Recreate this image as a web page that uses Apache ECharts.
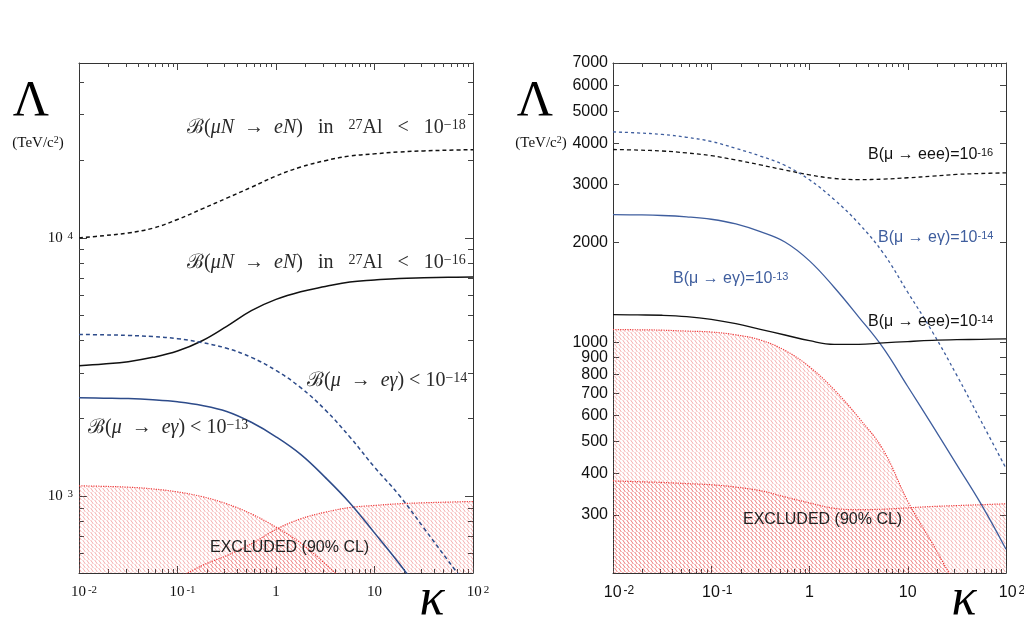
<!DOCTYPE html>
<html>
<head>
<meta charset="utf-8">
<script src="https://cdn.jsdelivr.net/npm/echarts@6/dist/echarts.min.js"></script>
<style>
html, body { margin: 0; padding: 0; background: #fff; }
#chart { width: 1024px; height: 628px; }
</style>
</head>
<body>
<div id="chart"></div>
<script>
// kappa sample points (quarter decades), shared by every curve
var kappa = [0.01, 0.0178, 0.0316, 0.0562, 0.1, 0.178, 0.316, 0.562, 1, 1.78, 3.16, 5.62, 10, 17.8, 31.6, 56.2, 100];

// left panel, Lambda in TeV/c^2
var convAl18   = [10000, 10200, 10450, 10900, 11780, 12950, 14250, 15700, 17350, 18800, 19900, 20750, 21150, 21500, 21700, 21850, 21950];
var convAl16   = [3200, 3250, 3320, 3450, 3650, 4000, 4550, 5230, 5780, 6190, 6480, 6750, 6870, 6970, 7010, 7040, 7060];
var megL14     = [4230, 4215, 4195, 4150, 4075, 3935, 3740, 3450, 3070, 2633, 2160, 1697, 1296, 1010, 755, 562, 420];
var megL13     = [2406, 2398, 2388, 2362, 2320, 2248, 2130, 1934, 1700, 1453, 1184, 943, 722, 550, 410, 310, 235];
var exclL_meg  = [1098, 1093, 1085, 1068, 1040, 997, 935, 855, 760, 660, 548, 448, 370, null, null, null, null];
var exclL_conv = [null, null, null, null, 480, 540, 590, 655, 745, 818, 868, 905, 922, 936, 944, 950, 955];

// right panel
var eee16      = [3830, 3815, 3790, 3740, 3670, 3560, 3440, 3320, 3210, 3130, 3105, 3115, 3145, 3180, 3220, 3240, 3255];
var megR14     = [4330, 4300, 4255, 4170, 4050, 3860, 3660, 3430, 3100, 2704, 2290, 1862, 1416, 1075, 793, 574, 415];
var megR13     = [2432, 2428, 2418, 2395, 2355, 2280, 2160, 2010, 1762, 1466, 1193, 961, 734, 560, 425, 322, 236];
var eee14      = [1211, 1209, 1206, 1195, 1172, 1137, 1093, 1051, 1010, 985, 985, 995, 1004, 1012, 1017, 1020, 1023];
var exclR_meg  = [1091, 1090, 1087, 1080, 1073, 1052, 1015, 944, 842, 718, 591, 472, 330, 246, 184, 150, null];
var exclR_eee  = [380, 378, 376, 373, 370, 364, 355, 340, 326, 314, 311, 312, 315, 318, 320, 322, 324];

// axes
var kappaRange  = [0.01, 100];
var leftYRange  = [505, 47500];
var rightYRange = [200, 7000];
var xMajor      = [0.01, 0.1, 1, 10, 100];
var leftYMajor  = [1000, 10000];
var leftYMinor  = [600, 700, 800, 900, 2000, 3000, 4000, 5000, 6000, 7000, 8000, 9000, 20000, 30000, 40000];
var rightYTicks = [300, 400, 500, 600, 700, 800, 900, 1000, 2000, 3000, 4000, 5000, 6000, 7000];

var BLUE_L = '#2d4b8a', BLUE_R = '#3f5e9e', BLACK = '#111', RED = '#ee3c3c';
var SERIF = '"Liberation Serif", "DejaVu Serif", serif';
var SANS = '"Liberation Sans", Arial, sans-serif';

function xMinor() {
    var out = [];
    for (var d = 0; d < 4; d++) {
        for (var j = 2; j < 10; j++) out.push(j * xMajor[d]);
    }
    return out;
}

// hatch fill, "\" lines; overlapping areas stack into darker lines
function hatch() {
    var c = document.createElement('canvas'), s = 4;
    c.width = s; c.height = s;
    var ctx = c.getContext('2d');
    ctx.strokeStyle = 'rgba(232,90,90,0.55)';
    ctx.lineWidth = 0.9;
    for (var k = -2; k <= 2; k++) {
        ctx.beginPath();
        ctx.moveTo(k * s - s, -s);
        ctx.lineTo(k * s + s, s + s);
        ctx.stroke();
    }
    return { image: c, repeat: 'repeat' };
}

function pairs(values) {
    var out = [];
    for (var i = 0; i < kappa.length; i++) {
        if (values[i] != null) out.push([kappa[i], values[i]]);
    }
    return out;
}

function tickAxis(grid, pos, range, values, len, label) {
    var lg = function (v) { return Math.log10(v); };
    return {
        type: 'value', gridIndex: grid, position: pos,
        min: lg(range[0]), max: lg(range[1]),
        axisLine: { show: len > 5, onZero: false, lineStyle: { color: '#333', width: 1 } },
        axisTick: { show: true, inside: true, length: len, customValues: values.map(lg),
                    lineStyle: { color: '#444', width: 1 } },
        axisLabel: label ? Object.assign({ customValues: values.map(lg) }, label) : { show: false },
        splitLine: { show: false }
    };
}

function dataAxis(grid, range) {
    return { type: 'log', gridIndex: grid, min: range[0], max: range[1], show: false,
             splitLine: { show: false } };
}

function line(xi, yi, values, color, dash, width) {
    return {
        type: 'line', xAxisIndex: xi, yAxisIndex: yi, data: pairs(values),
        smooth: 0.4, showSymbol: false, symbol: 'none', silent: true,
        lineStyle: { color: color, type: dash, width: width }, z: 3
    };
}

function area(xi, yi, values) {
    return {
        type: 'line', xAxisIndex: xi, yAxisIndex: yi, data: pairs(values),
        smooth: 0.4, showSymbol: false, symbol: 'none', silent: true,
        lineStyle: { color: RED, type: 'dotted', width: 1.2 },
        areaStyle: { color: hatch(), opacity: 1, origin: 'start' }, z: 2
    };
}

var supRich = function (font, size, sup) {
    return {
        n: { fontFamily: font, fontSize: size, color: '#111' },
        s: { fontFamily: font, fontSize: sup, color: '#111', verticalAlign: 'top', padding: [0, 0, 0, 2] }
    };
};

var leftXLabel = {
    margin: 12, fontFamily: SERIF, fontSize: 15, color: '#111',
    formatter: function (v) {
        v = Math.round(v);
        if (v === 0) return '{n|1}';
        if (v === 1) return '{n|10}';
        return '{p|}{n|10}{s|' + v + '}';
    },
    rich: Object.assign(supRich(SERIF, 15, 11), { p: { width: 10 } })
};
var rightXLabel = {
    margin: 12, fontFamily: SANS, fontSize: 16, color: '#111',
    formatter: leftXLabel.formatter,
    rich: Object.assign(supRich(SANS, 16, 12), { p: { width: 12 } })
};
var leftYLabel = {
    margin: 6, fontFamily: SERIF, fontSize: 15, color: '#111',
    formatter: function (v) { return '{n|10}{s| ' + Math.round(v) + '}'; },
    rich: supRich(SERIF, 15, 11)
};
var rightYLabel = {
    margin: 5, fontFamily: SANS, fontSize: 16, color: '#111',
    formatter: function (v) { return String(Math.round(Math.pow(10, v))); }
};

var grids = [
    { left: 79, top: 63, width: 394, height: 510, outerBoundsMode: 'none' },
    { left: 613, top: 63, width: 393, height: 510, outerBoundsMode: 'none' }
];

var xAxes = [
    dataAxis(0, kappaRange),
    tickAxis(0, 'bottom', kappaRange, xMajor, 7, leftXLabel),
    tickAxis(0, 'bottom', kappaRange, xMinor(), 4),
    tickAxis(0, 'top', kappaRange, xMajor, 7),
    tickAxis(0, 'top', kappaRange, xMinor(), 4),
    dataAxis(1, kappaRange),
    tickAxis(1, 'bottom', kappaRange, xMajor, 7, rightXLabel),
    tickAxis(1, 'bottom', kappaRange, xMinor(), 4),
    tickAxis(1, 'top', kappaRange, xMajor, 7),
    tickAxis(1, 'top', kappaRange, xMinor(), 4)
];
var yAxes = [
    dataAxis(0, leftYRange),
    tickAxis(0, 'left', leftYRange, leftYMajor, 8, leftYLabel),
    tickAxis(0, 'left', leftYRange, leftYMinor, 5),
    tickAxis(0, 'right', leftYRange, leftYMajor, 8),
    tickAxis(0, 'right', leftYRange, leftYMinor, 5),
    dataAxis(1, rightYRange),
    tickAxis(1, 'left', rightYRange, rightYTicks, 6, rightYLabel),
    tickAxis(1, 'right', rightYRange, rightYTicks, 6)
];

var series = [
    area(0, 0, exclL_meg),
    area(0, 0, exclL_conv),
    line(0, 0, convAl18, BLACK, [4, 3], 1.5),
    line(0, 0, convAl16, BLACK, 'solid', 1.5),
    line(0, 0, megL14, BLUE_L, [4, 3], 1.5),
    line(0, 0, megL13, BLUE_L, 'solid', 1.5),
    area(5, 5, exclR_meg),
    area(5, 5, exclR_eee),
    line(5, 5, eee16, BLACK, [4, 3], 1.3),
    line(5, 5, megR14, BLUE_R, [3, 3], 1.3),
    line(5, 5, megR13, BLUE_R, 'solid', 1.3),
    line(5, 5, eee14, BLACK, 'solid', 1.3)
];

function text(x, y, str, rich, extra) {
    return {
        type: 'text', x: x, y: y, z: 10, silent: true,
        style: Object.assign({ text: str, rich: rich, verticalAlign: 'middle', align: 'left' }, extra || {})
    };
}

var mathRich = {
    t: { fontFamily: SERIF, fontSize: 20, fill: '#2a2a2a' },
    i: { fontFamily: SERIF, fontSize: 20, fontStyle: 'italic', fill: '#2a2a2a' },
    u: { fontFamily: SERIF, fontSize: 14, fill: '#2a2a2a', verticalAlign: 'top' }
};
var sansRich = function (color) {
    return {
        t: { fontFamily: SANS, fontSize: 16, fill: color },
        u: { fontFamily: SANS, fontSize: 11, fill: color, verticalAlign: 'top' }
    };
};
var unitRich = {
    t: { fontFamily: SERIF, fontSize: 15, fill: '#111' },
    u: { fontFamily: SERIF, fontSize: 10, fill: '#111', verticalAlign: 'top' }
};
var bigRich = { t: { fontFamily: SERIF, fontSize: 50, fill: '#000' } };
var kapRich = { t: { fontFamily: SERIF, fontSize: 52, fontStyle: 'italic', fill: '#000' } };

var graphics = [
    text(31, 102, '{t|Λ}', bigRich, { align: 'center' }),
    text(38, 143, '{t|(TeV/c}{u|2}{t|)}', unitRich, { align: 'center' }),
    text(432, 600, '{t|κ}', kapRich, { align: 'center' }),
    text(187, 128, '{t|ℬ(}{i|μN}{t|  →  }{i|eN}{t|)   in   }{u|27}{t|Al   <   10}{u|−18}', mathRich),
    text(187, 263, '{t|ℬ(}{i|μN}{t|  →  }{i|eN}{t|)   in   }{u|27}{t|Al   <   10}{u|−16}', mathRich),
    text(307, 381, '{t|ℬ(}{i|μ}{t|  →  }{i|eγ}{t|) < 10}{u|−14}', mathRich),
    text(88, 428, '{t|ℬ(}{i|μ}{t|  →  }{i|eγ}{t|) < 10}{u|−13}', mathRich),
    text(210, 548, '{t|EXCLUDED (90% CL)}', sansRich('#222')),

    text(535, 102, '{t|Λ}', bigRich, { align: 'center' }),
    text(541, 143, '{t|(TeV/c}{u|2}{t|)}', unitRich, { align: 'center' }),
    text(964, 600, '{t|κ}', kapRich, { align: 'center' }),
    text(868, 155, '{t|B(μ → eee)=10}{u|-16}', sansRich('#111')),
    text(878, 238, '{t|B(μ → eγ)=10}{u|-14}', sansRich(BLUE_R)),
    text(673, 279, '{t|B(μ → eγ)=10}{u|-13}', sansRich(BLUE_R)),
    text(868, 322, '{t|B(μ → eee)=10}{u|-14}', sansRich('#111')),
    text(743, 520, '{t|EXCLUDED (90% CL)}', sansRich('#222'))
];

var chart = echarts.init(document.getElementById('chart'), null, { renderer: 'canvas' });
chart.setOption({
    animation: false,
    backgroundColor: '#fff',
    grid: grids,
    xAxis: xAxes,
    yAxis: yAxes,
    series: series,
    graphic: graphics
});
</script>
</body>
</html>
